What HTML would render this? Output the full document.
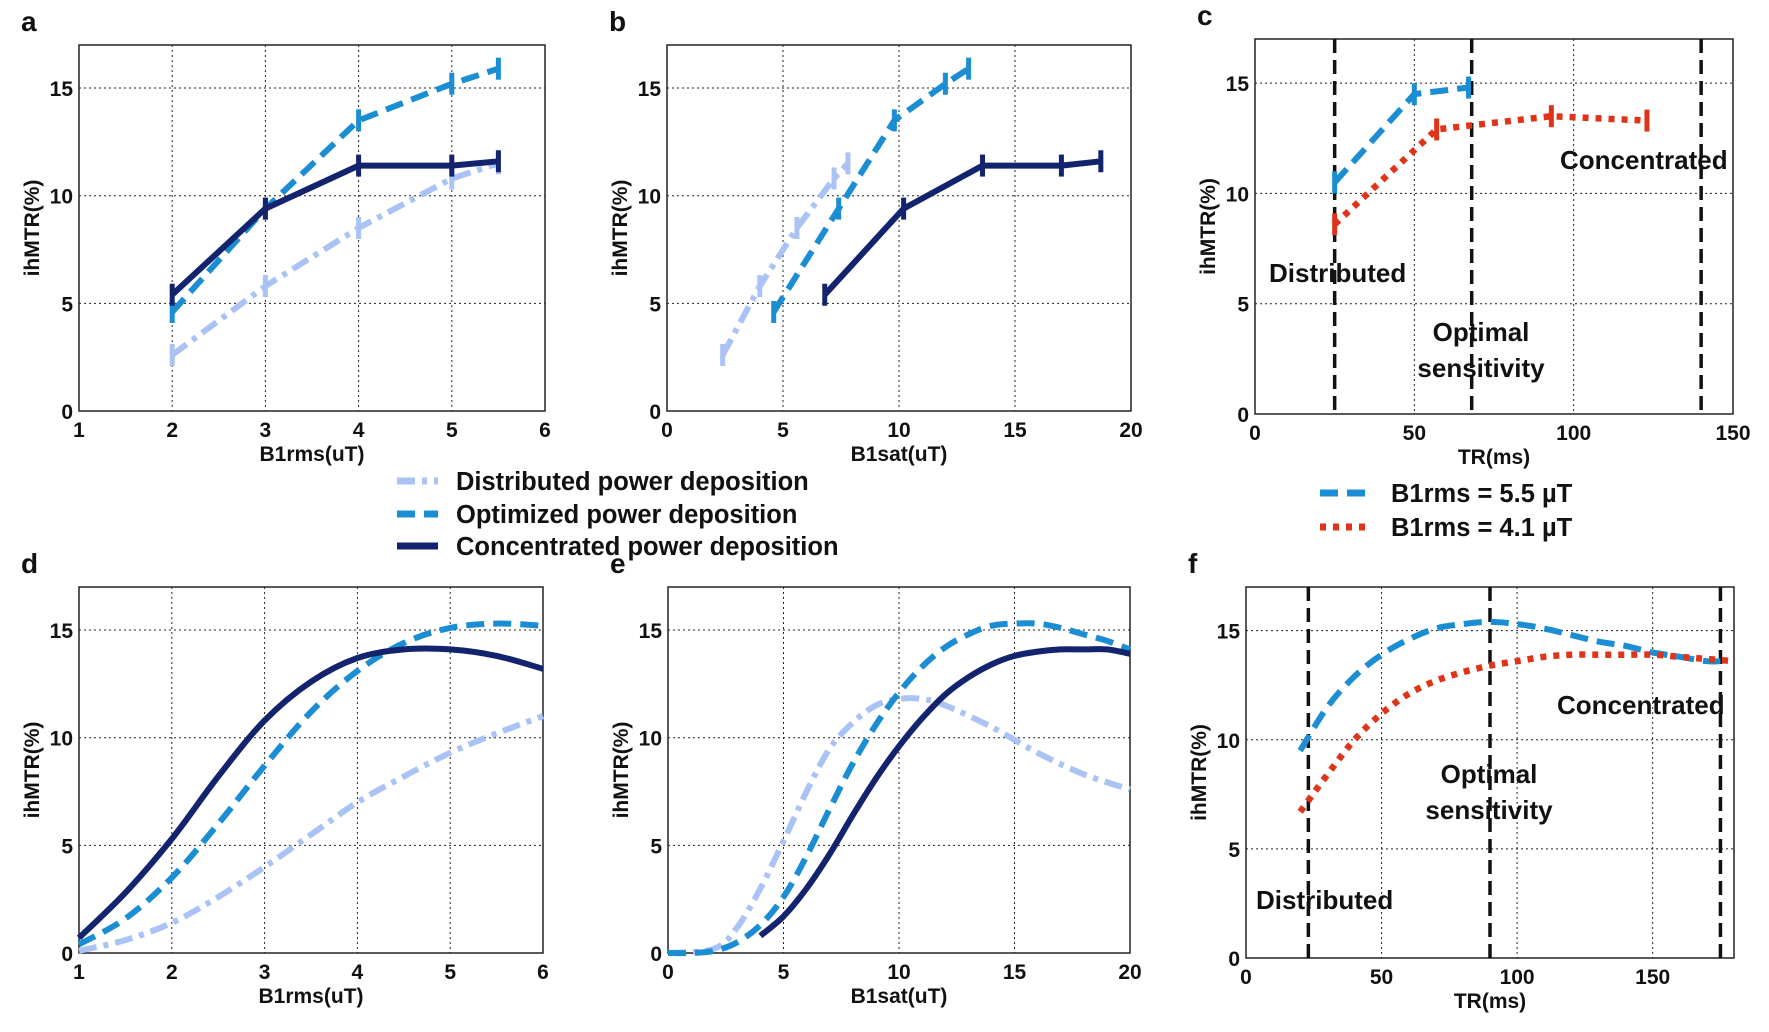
<!DOCTYPE html>
<html><head><meta charset="utf-8"><style>
html,body{margin:0;padding:0;background:#fff}
svg{display:block}
text{font-family:"Liberation Sans",Arial,sans-serif;font-weight:bold;fill:#111}
</style></head><body>
<svg id="fig" width="1769" height="1032" viewBox="0 0 1769 1032" xmlns="http://www.w3.org/2000/svg"></svg>
<script>
// ---- data ----
const aX=[2,3,4,5,5.5];
const aDist=[2.6,5.8,8.5,10.8,11.5];
const aOpt=[4.6,9.4,13.5,15.2,15.9];
const aConc=[5.4,9.4,11.4,11.4,11.6];
const bDistX=[2.4,4.0,5.6,7.2,7.8];
const bOptX=[4.6,7.4,9.8,12.0,13.0];
const bConcX=[6.8,10.2,13.6,17.0,18.7];
const cBlueX=[25,50,67];
const cBlue=[10.5,14.5,14.8];
const cRedX=[25,57,93,123];
const cRed=[8.6,12.9,13.5,13.3];
const cVlines=[25,68,140];
const dX=[1,1.5,2,2.5,3,3.5,4,4.5,5,5.5,6];
const dConc=[0.7,2.8,5.3,8.2,10.8,12.6,13.7,14.1,14.1,13.8,13.2];
const dOpt=[0.4,1.6,3.5,6.0,8.7,11.2,13.1,14.4,15.1,15.3,15.2];
const dDist=[0.1,0.6,1.4,2.6,4.0,5.5,7.0,8.2,9.3,10.2,11.0];
const eDistX=[0,2,3,4,5,6,7,8,9,10,11,12,14,16,18,20];
const eDist=[0,0.2,1.2,3,5.2,7.5,9.5,10.7,11.5,11.8,11.8,11.5,10.5,9.3,8.3,7.6];
const eOptX=[0,1,2,3,4,5,6,7,8,9,10,11,12,13,14,15,16,17,18,19,20];
const eOpt=[0,0,0.1,0.5,1.3,2.6,4.5,6.7,8.8,10.6,12.1,13.3,14.2,14.8,15.2,15.3,15.3,15.1,14.8,14.5,14.1];
const eConcX=[4,5,6,7,8,9,10,11,12,13,14,15,16,17,18,19,20];
const eConc=[0.8,1.7,3,4.6,6.4,8.1,9.6,10.9,12,12.8,13.4,13.8,14.0,14.1,14.1,14.1,13.9];
const fBlueX=[20,30,40,50,60,70,80,90,100,110,120,130,140,150,160,170,175];
const fBlue=[9.5,11.5,12.9,13.9,14.6,15.1,15.3,15.4,15.3,15.1,14.8,14.5,14.3,14.0,13.8,13.6,13.6];
const fRedX=[20,30,40,50,60,70,80,90,100,110,120,130,140,150,160,170,180];
const fRed=[6.7,8.4,10,11.2,12.1,12.7,13.1,13.4,13.6,13.8,13.9,13.9,13.9,13.9,13.8,13.7,13.6];
const fVlines=[23,90,175];
const yTicks=[0,5,10,15];
const ticksA=[1,2,3,4,5,6];
const ticksB=[0,5,10,15,20];
const ticksC=[0,50,100,150];

const NS="http://www.w3.org/2000/svg";
const svg=document.getElementById('fig');
function el(tag,attrs,parent,txt){const e=document.createElementNS(NS,tag);for(const k in attrs)e.setAttribute(k,attrs[k]);if(txt!==undefined)e.textContent=txt;(parent||svg).appendChild(e);return e;}
const C={dist:'#aac3f4',opt:'#1b8dd2',conc:'#13236d',red:'#e0341a'};
const DASH={dist:'18,7,5,7',opt:'18,9',conc:'',red:'6,7'};

function panel(id,letter,L,R,T,B,xmin,xmax,ymax,xt,xlabel){
  const g=el('g',{});
  
  
  const sx=v=>L+(v-xmin)/(xmax-xmin)*(R-L);
  const sy=v=>B-v/ymax*(B-T);
  const t=el('text',{x:L-58,y:T-14,'font-size':28},g,letter);
  
  xt.forEach(v=>{const x=sx(v);
    if(v>xmin&&v<xmax){const l=el('line',{x1:x,x2:x,y1:T,y2:B,stroke:'#222','stroke-width':1,'stroke-dasharray':'2,3'},g);}
    const tl=el('text',{x:x,y:B+26,'font-size':21,'text-anchor':'middle'},g,String(v));
  });
  yTicks.forEach(v=>{const y=sy(v);
    if(v>0){const l=el('line',{x1:L,x2:R,y1:y,y2:y,stroke:'#222','stroke-width':1,'stroke-dasharray':'2,3'},g);}
    const tl=el('text',{x:L-6,y:y+8,'font-size':21,'text-anchor':'end'},g,String(v));
  });
  const fr=el('rect',{x:L,y:T,width:R-L,height:B-T,fill:'none',stroke:'#222','stroke-width':1.5},g);
  
  const xl=el('text',{x:(L+R)/2,y:B+50,'font-size':21,'text-anchor':'middle'},g,xlabel);
  
  const yl=el('text',{x:0,y:0,'font-size':21,'text-anchor':'middle',transform:`translate(${L-40},${(T+B)/2}) rotate(-90)`},g,'ihMTR(%)');
  
  return {g,sx,sy,T,B,L,R};
}
function pathD(pts,smooth){
  if(!smooth) return pts.map((p,i)=>(i?'L':'M')+p[0].toFixed(1)+','+p[1].toFixed(1)).join(' ');
  let d='M'+pts[0][0].toFixed(1)+','+pts[0][1].toFixed(1);
  for(let i=0;i<pts.length-1;i++){
    const p0=pts[Math.max(0,i-1)],p1=pts[i],p2=pts[i+1],p3=pts[Math.min(pts.length-1,i+2)];
    const c1=[p1[0]+(p2[0]-p0[0])/6,p1[1]+(p2[1]-p0[1])/6];
    const c2=[p2[0]-(p3[0]-p1[0])/6,p2[1]-(p3[1]-p1[1])/6];
    d+=' C'+c1[0].toFixed(1)+','+c1[1].toFixed(1)+' '+c2[0].toFixed(1)+','+c2[1].toFixed(1)+' '+p2[0].toFixed(1)+','+p2[1].toFixed(1);
  }
  return d;
}
function series(p,xs,ys,kind,name,err,smooth){
  const pts=xs.map((x,i)=>[p.sx(x),p.sy(ys[i])]);
  const path=el('path',{d:pathD(pts,smooth),fill:'none',stroke:C[kind],'stroke-width':kind==='red'?6.5:6,'stroke-dasharray':DASH[kind],'stroke-linejoin':'round'},p.g);
  
  if(err){xs.forEach((x,i)=>{
    const eb=el('line',{x1:p.sx(x),x2:p.sx(x),y1:p.sy(ys[i])-11,y2:p.sy(ys[i])+11,stroke:C[kind],'stroke-width':5},p.g);
    });}
}
function vline(p,v){const l=el('line',{x1:p.sx(v),x2:p.sx(v),y1:p.T,y2:p.B,stroke:'#111','stroke-width':3.5,'stroke-dasharray':'14,7'},p.g);
  }
function note(p,x,y,s,anchor){const t=el('text',{x:x,y:y,'font-size':26,'text-anchor':anchor||'start'},p.g,s);
  }

// a
const pa=panel('a','a',79,545,45,411,1,6,17,ticksA,'B1rms(uT)');
series(pa,aX,aDist,'dist','series-distributed',true);
series(pa,aX,aOpt,'opt','series-optimized',true);
series(pa,aX,aConc,'conc','series-concentrated',true);
// b
const pb=panel('b','b',667,1131,45,411,0,20,17,ticksB,'B1sat(uT)');
series(pb,bDistX,aDist,'dist','series-distributed',true);
series(pb,bOptX,aOpt,'opt','series-optimized',true);
series(pb,bConcX,aConc,'conc','series-concentrated',true);
// c
const pc=panel('c','c',1255,1733,39,414,0,150,17,ticksC,'TR(ms)');
cVlines.forEach(v=>vline(pc,v));
series(pc,cBlueX,cBlue,'opt','series-b1rms-5.5',true);
series(pc,cRedX,cRed,'red','series-b1rms-4.1',true);
note(pc,1269,282,'Distributed');
note(pc,1481,341,'Optimal','middle');
note(pc,1481,377,'sensitivity','middle');
note(pc,1560,169,'Concentrated');
// d
const pd=panel('d','d',79,543,587,953,1,6,17,ticksA,'B1rms(uT)');
series(pd,dX,dDist,'dist','curve-distributed',false,true);
series(pd,dX,dOpt,'opt','curve-optimized',false,true);
series(pd,dX,dConc,'conc','curve-concentrated',false,true);
// e
const pe=panel('e','e',668,1130,587,953,0,20,17,ticksB,'B1sat(uT)');
series(pe,eDistX,eDist,'dist','curve-distributed',false,true);
series(pe,eOptX,eOpt,'opt','curve-optimized',false,true);
series(pe,eConcX,eConc,'conc','curve-concentrated',false,true);
// f
const pf=panel('f','f',1246,1734,587,958,0,180,17,ticksC,'TR(ms)');
fVlines.forEach(v=>vline(pf,v));
series(pf,fBlueX,fBlue,'opt','curve-b1rms-5.5',false,true);
series(pf,fRedX,fRed,'red','curve-b1rms-4.1',false,true);
note(pf,1256,909,'Distributed');
note(pf,1489,783,'Optimal','middle');
note(pf,1489,819,'sensitivity','middle');
note(pf,1557,714,'Concentrated');

// legends
function legend(x1,x2,tx,y,kind,label,nm){
  const g=el('g',{});
  el('line',{x1:x1,x2:x2,y1:y,y2:y,stroke:C[kind],'stroke-width':7,'stroke-dasharray':DASH[kind]||'none'},g);
  el('text',{x:tx,y:y+9,'font-size':25.5},g,label);
}
legend(397,438,456,481,'dist','Distributed power deposition','legend-entry-distributed');
legend(397,438,456,514,'opt','Optimized power deposition','legend-entry-optimized');
legend(397,438,456,546,'conc','Concentrated power deposition','legend-entry-concentrated');
legend(1320,1365,1391,493,'opt','B1rms = 5.5 µT','legend-entry-5.5');
legend(1320,1365,1391,527,'red','B1rms = 4.1 µT','legend-entry-4.1');
</script>
</body></html>
